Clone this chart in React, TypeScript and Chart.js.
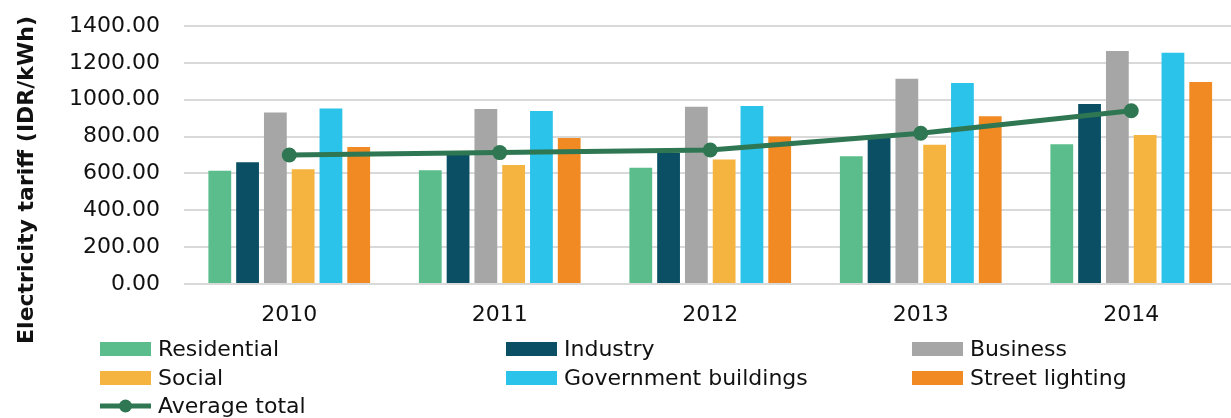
import React, { useEffect, useRef } from "react";
import { Chart, registerables } from "chart.js";

Chart.register(...registerables);

const years = ["2010", "2011", "2012", "2013", "2014"];
const residential = [615, 617, 631, 693, 758];
const industry = [660, 700, 712, 800, 977];
const business = [931, 950, 962, 1114, 1264];
const social = [622, 646, 676, 756, 808];
const government = [953, 939, 966, 1091, 1255];
const streetLighting = [743, 792, 801, 910, 1096];
const averageTotal = [700, 713, 727, 818, 940];

const yMax = 1400;
const yStep = 200;
const yTitle = "Electricity tariff (IDR/kWh)";

const FONT = '"DejaVu Sans", sans-serif';
const TEXT = "#111111";

const legendPlugin = {
  id: "gridLegend",
  afterDraw(chart: any) {
    const ctx = chart.ctx;
    ctx.save();
    // y-axis title
    ctx.translate(27, 180);
    ctx.rotate(-Math.PI / 2);
    ctx.font = `bold 22px ${FONT}`;
    ctx.fillStyle = TEXT;
    ctx.textAlign = "center";
    ctx.textBaseline = "middle";
    ctx.fillText(yTitle, 0, 0);
    ctx.restore();

    ctx.save();
    ctx.font = `22px ${FONT}`;
    ctx.textBaseline = "middle";
    ctx.textAlign = "left";
    const cols = [100, 506, 912];
    const rows = [349, 378, 406];
    chart.data.datasets.forEach((ds: any, i: number) => {
      const x = cols[i % 3];
      const y = rows[Math.floor(i / 3)];
      if (ds.type === "line") {
        ctx.strokeStyle = ds.borderColor;
        ctx.lineWidth = 5;
        ctx.beginPath();
        ctx.moveTo(x, y);
        ctx.lineTo(x + 51, y);
        ctx.stroke();
        ctx.fillStyle = ds.borderColor;
        ctx.beginPath();
        ctx.arc(x + 25.5, y, 6.5, 0, Math.PI * 2);
        ctx.fill();
      } else {
        ctx.fillStyle = ds.backgroundColor;
        ctx.fillRect(x, y - 7, 51, 14);
      }
      ctx.fillStyle = TEXT;
      ctx.fillText(ds.label, x + 58, y + 1);
    });
    ctx.restore();
  },
};

export default function App() {
  const ref = useRef<HTMLCanvasElement>(null);
  useEffect(() => {
    document.body.style.margin = "0";
    document.body.style.overflow = "hidden";
    document.documentElement.style.overflow = "hidden";
    const bar = (label: string, data: number[], color: string) => ({
      type: "bar" as const,
      label,
      data,
      backgroundColor: color,
      borderWidth: 0,
      order: 1,
      categoryPercentage: 0.792,
      barPercentage: 0.82,
    });
    const chart = new Chart(ref.current!, {
      type: "bar",
      data: {
        labels: years,
        datasets: [
          bar("Residential", residential, "#5BBD8C"),
          bar("Industry", industry, "#0A4F63"),
          bar("Business", business, "#A6A6A6"),
          bar("Social", social, "#F5B43F"),
          bar("Government buildings", government, "#2BC3EA"),
          bar("Street lighting", streetLighting, "#F18A23"),
          {
            type: "line" as const,
            label: "Average total",
            data: averageTotal,
            borderColor: "#2E7752",
            backgroundColor: "#2E7752",
            borderWidth: 5,
            pointRadius: 7.5,
            pointBackgroundColor: "#2E7752",
            pointBorderWidth: 0,
            tension: 0,
            order: 0,
          } as any,
        ],
      },
      options: {
        responsive: false,
        animation: false,
        layout: { padding: { top: 26, bottom: 0, left: 0, right: 0 } },
        plugins: {
          legend: { display: false },
          tooltip: { enabled: false },
          title: { display: false },
        },
        scales: {
          x: {
            grid: { display: false, drawTicks: false },
            border: { display: false },
            ticks: {
              color: TEXT,
              font: { family: FONT, size: 22 },
              padding: 18,
              maxRotation: 0,
            },
            afterFit(scale: any) {
              scale.height = 134;
              scale.paddingLeft = 0;
              scale.paddingRight = 0;
            },
          },
          y: {
            min: 0,
            max: yMax,
            grid: { color: "#D9D9D9", lineWidth: 2, drawTicks: false },
            border: { display: false },
            ticks: {
              stepSize: yStep,
              color: TEXT,
              font: { family: FONT, size: 22 },
              padding: 24,
              callback: (v: any) => Number(v).toFixed(2),
            },
            afterFit(scale: any) {
              scale.width = 184;
              scale.paddingTop = 0;
              scale.paddingBottom = 0;
            },
          },
        },
      },
      plugins: [legendPlugin],
    });
    return () => chart.destroy();
  }, []);
  return (
    <div style={{ width: 1244, height: 418, position: "relative", background: "#fff" }}>
      <canvas ref={ref} width={1244} height={418} style={{ display: "block" }} />
    </div>
  );
}
